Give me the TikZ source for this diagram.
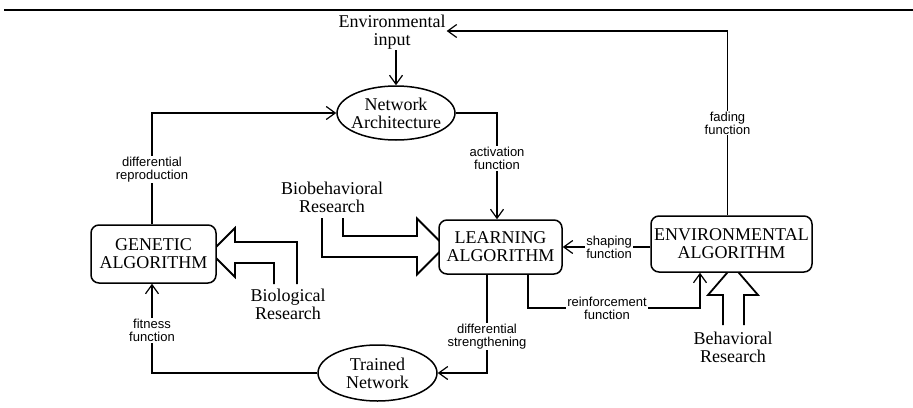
\documentclass[tikz,border=0pt]{standalone}
\usepackage{fontspec}
\setmainfont{Liberation Serif}
\newfontfamily\lblfont{Liberation Sans}
\usetikzlibrary{arrows.meta,shapes.geometric}
\begin{document}
\begin{tikzpicture}[x=1pt,y=-1pt,
  big/.style={font=\fontsize{18}{18}\selectfont, align=center, inner sep=1pt},
  algbox/.style={draw, rounded corners=8pt, line width=1.5pt, fill=white, font=\fontsize{18}{18}\selectfont, align=center, inner sep=1pt},
  ellip/.style={draw, ellipse, line width=1.5pt, inner sep=0pt},
  lbl/.style={font=\lblfont\fontsize{13}{13}\selectfont, align=center, fill=white, inner sep=1pt},
  conn/.style={line width=1.2pt},
  arr/.style={conn, -{Straight Barb[length=9pt,width=13pt]}},
  fat/.style={line width=1.8pt, line join=miter},
]
\useasboundingbox (0,0) rectangle (913,407);
\draw[line width=2pt] (4,9.5) -- (913,9.5);

% big hollow arrows (drawn first, tips hidden under boxes)
\draw[fat] (297,284) -- (297,242) -- (235,242) -- (235,228) -- (210.5,252.5) -- (235,277) -- (235,263) -- (274,263) -- (274,284);
\draw[fat] (343,218) -- (343,236) -- (417,236) -- (417,218.5) -- (445,246.5) -- (417,274.5) -- (417,257) -- (322,257) -- (322,218);
\draw[fat] (723,325) -- (723,295) -- (708,295) -- (733,266) -- (758,295) -- (744,295) -- (744,325);

% nodes
\node[big] (envin) at (392,32) {Environmental\\input};
\node[ellip, minimum width=118pt, minimum height=54pt] (na) at (396,113) {};
\node[big] (natx) at (na) {Network\\Architecture};
\node[algbox, minimum width=125pt, minimum height=58pt] (ga) at (153.5,254) {GENETIC\\ALGORITHM};
\node[algbox, minimum width=123pt, minimum height=54pt] (la) at (500.5,247) {LEARNING\\ALGORITHM};
\node[algbox, minimum width=161pt, minimum height=56pt] (ea) at (731.5,244) {ENVIRONMENTAL\\ALGORITHM};
\node[ellip, minimum width=119pt, minimum height=56pt] (tn) at (377.5,373) {};
\node[big] (tntx) at (tn) {Trained\\Network};
\node[big] (bbr) at (332,197.5) {Biobehavioral\\Research};
\node[big] (blr) at (288,304) {Biological\\Research};
\node[big] (bhr) at (733,347) {Behavioral\\Research};

% connectors
\draw[arr] (envin.south -| na.north) -- (na.north);
\draw[arr] ([xshift=-4pt]ea.north) |- ([yshift=1pt]envin.east)
  node[lbl,pos=0.25] {fading\\function};
\draw[arr] ([xshift=-1.5pt]ga.north) |- (na.west)
  node[lbl,pos=0.245] {differential\\reproduction};
\draw[arr] (na.east) -| ([xshift=-3.5pt]la.north)
  node[lbl,pos=0.713] {activation\\function};
\draw[arr] (la.east -| ea.west) -- (la.east)
  node[lbl,pos=0.47] {shaping\\function};
\coordinate (rf) at (700,308);
\draw[arr] ([xshift=27.5pt]la.south) |- (rf) -- (rf |- ea.south);
\node[lbl] (rfl) at (607,308) {reinforcement\\function};
\draw[arr] ([xshift=-13.5pt]la.south) |- (tn.east)
  node[lbl,pos=0.313] {differential\\strengthening};
\draw[arr] (tn.west) -| ([xshift=-1.5pt]ga.south)
  node[lbl,pos=0.739] {fitness\\function};
\end{tikzpicture}
\end{document}
